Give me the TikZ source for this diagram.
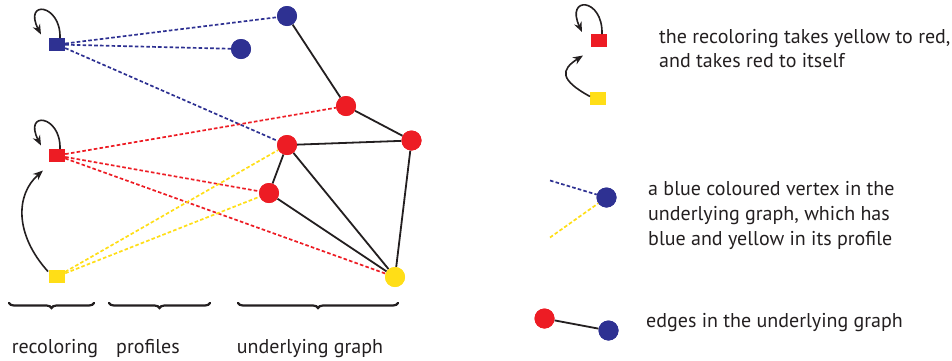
\documentclass[tikz,border=0pt]{standalone}
\usepackage{fontspec}
\setmainfont{PT Sans}
\usetikzlibrary{arrows.meta,calc,decorations.pathreplacing}
\definecolor{vblue}{RGB}{46,49,146}
\definecolor{vred}{RGB}{237,28,36}
\definecolor{vyellow}{RGB}{255,222,23}
\definecolor{ink}{RGB}{35,31,32}
\tikzset{
  vtx/.style={circle,fill=#1,minimum size=20pt,inner sep=0pt},
  col/.style={rectangle,fill=#1,minimum width=16pt,minimum height=13pt,inner sep=0pt},
  edge/.style={ink,line width=1.8pt},
  prof/.style={#1,line width=1.7pt,dash pattern=on 3.6pt off 2.2pt},
  recol/.style={ink,line width=1.6pt,-{Stealth[length=10pt,width=8pt]}},
  brc/.style={ink,line width=2.2pt,line cap=round,decorate,decoration={brace,mirror,amplitude=5pt,aspect=0.5}},
  lbl/.style={text=ink,font=\fontsize{20}{25}\selectfont,inner sep=0pt},
}
\begin{document}
\begin{tikzpicture}[x=1pt,y=-1pt]
\useasboundingbox (0,0) rectangle (952,360);

% colour squares (the recoloring)
\node[col=vblue]   (bsq) at (57,44.5) {};
\node[col=vred]    (rsq) at (57,155.5) {};
\node[col=vyellow] (ysq) at (57,276.5) {};

% vertices of the underlying graph
\node[vtx=vblue]   (b1) at (287,16) {};
\node[vtx=vblue]   (b2) at (241,49) {};
\node[vtx=vred]    (r1) at (346,106) {};
\node[vtx=vred]    (r2) at (411.5,140.5) {};
\node[vtx=vred]    (r3) at (287,145) {};
\node[vtx=vred]    (r4) at (269,193) {};
\node[vtx=vyellow] (y1) at (395,277) {};

% profiles
\draw[prof=vblue] (bsq) -- (b1);
\draw[prof=vblue] (bsq) -- (b2);
\draw[prof=vblue] (bsq) -- (r3);
\draw[prof=vred] (rsq) -- (r1);
\draw[prof=vred] (rsq) -- (r4);
\draw[prof=vred] (rsq) -- (y1);
\draw[prof=vyellow] (ysq) -- (r3);
\draw[prof=vyellow] (ysq) -- (r4);

% edges
\draw[edge] (b1) -- (r1);
\draw[edge] (r1) -- (r2);
\draw[edge] (r3) -- (r2);
\draw[edge] (r3) -- (r4);
\draw[edge] (r3) -- (y1);
\draw[edge] (r4) -- (y1);
\draw[edge] (r2) -- (y1);

% redraw vertices on top of the lines
\foreach \n/\c in {bsq/vblue,rsq/vred,ysq/vyellow}{\node[col=\c] at (\n) {};}
\foreach \n/\c in {b1/vblue,b2/vblue,r1/vred,r2/vred,r3/vred,r4/vred,y1/vyellow}{\node[vtx=\c] at (\n) {};}

% recoloring arrows
\draw[recol] ($(bsq)+(3,-6.5)$) .. controls ($(bsq)+(4,-41)$) and ($(bsq)+(-34,-45)$) .. ($(bsq)+(-16,-10)$);
\draw[recol] ($(rsq)+(3,-6.5)$) .. controls ($(rsq)+(4,-41)$) and ($(rsq)+(-34,-45)$) .. ($(rsq)+(-16,-10)$);
\draw[recol] ($(ysq)+(-9,-5)$) .. controls (15,235) and (15,195) .. ($(rsq)+(-14,15)$);

% braces
\coordinate (br1a) at (9,303);   \coordinate (br1b) at (94,303);
\coordinate (br2a) at (109,303); \coordinate (br2b) at (210,303);
\coordinate (br3a) at (238,303); \coordinate (br3b) at (398,303);
\draw[brc] (br1a) -- (br1b);
\draw[brc] (br2a) -- (br2b);
\draw[brc] (br3a) -- (br3b);
\node[lbl,anchor=base] (t1) at (55,353) {recoloring};
\node[lbl,anchor=base] (t2) at (148,353) {profiles};
\node[lbl,anchor=base] (t3) at (310,353) {underlying graph};

% legend: recoloring
\node[col=vred]    (lr) at (599,40.5) {};
\node[col=vyellow] (ly) at (598,98.5) {};
\draw[recol] ($(lr)+(3,-6.5)$) .. controls ($(lr)+(4,-43)$) and ($(lr)+(-34,-45)$) .. ($(lr)+(-17,-8.5)$);
\draw[recol] ($(ly)+(-8,-2)$) .. controls (560,80) and (560,70) .. ($(lr)+(-16,15)$);
\node[lbl,anchor=base west] (lt1a) at (659,43) {the recoloring takes yellow to red,};
\node[lbl,anchor=base west] (lt1b) at (659,67.5) {and takes red to itself};

% legend: profile
\node[vtx=vblue] (lb) at (606.5,197.5) {};
\coordinate (lpb) at (550,180.5);
\coordinate (lpy) at (550,237.5);
\draw[prof=vblue] (lpb) -- (lb);
\draw[prof=vyellow] (lpy) -- (lb);
\node[vtx=vblue] at (lb) {};
\node[lbl,anchor=base west] (lt2a) at (648,195) {a blue coloured vertex in the};
\node[lbl,anchor=base west] (lt2b) at (648,220) {underlying graph, which has};
\node[lbl,anchor=base west] (lt2c) at (648,245) {blue and yellow in its profile};

% legend: edge
\node[vtx=vred]  (le1) at (544.5,318.5) {};
\node[vtx=vblue] (le2) at (608.5,330.5) {};
\draw[edge] (le1) -- (le2);
\node[vtx=vred]  at (le1) {};
\node[vtx=vblue] at (le2) {};
\node[lbl,anchor=base west] (lt3) at (646,327) {edges in the underlying graph};
\end{tikzpicture}
\end{document}
